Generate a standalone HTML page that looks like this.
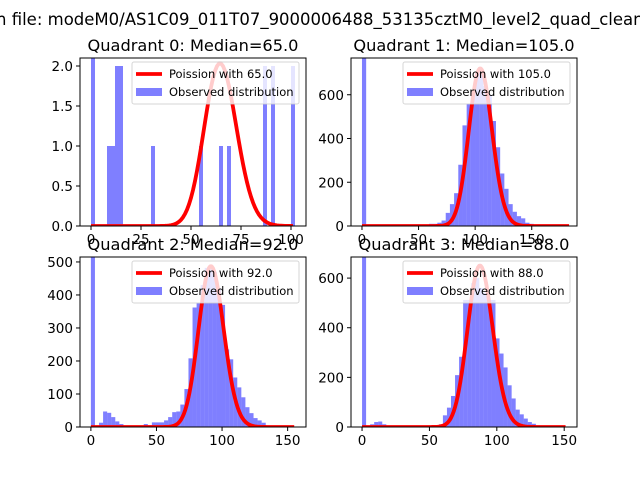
<!DOCTYPE html>
<html><head><meta charset="utf-8">
<style>
html,body{margin:0;padding:0;background:#fff;}
svg{display:block;font-family:"DejaVu Sans","Liberation Sans",sans-serif;}
</style></head>
<body>
<svg id="fig" width="640" height="480" viewBox="0 0 640 480" xmlns="http://www.w3.org/2000/svg">
<rect width="640" height="480" fill="#fff"/>
<text x="-4" y="25" font-size="16.5" fill="#000">n file: modeM0/AS1C09_011T07_9000006488_53135cztM0_level2_quad_clean.evt</text>
</svg>
<script>
// ---- data ----
const q0Counts = [3,0,0,0,1,1,2,2,0,0,0,0,0,0,0,1,0,0,0,0,0,0,0,0,0,0,0,1,0,0,0,0,1,0,1,0,0,0,0,0,0,0,0,2,0,2,0,0,0,0,2];
const q1Counts = [900,0,0,0,5,2,2,2,2,2,2,2,2,2,2,5,10,10,15,25,60,100,150,280,460,560,620,700,700,640,600,480,360,240,170,100,65,45,35,15,10,5,3,3,2,0,0,0,0,0];
const q2Counts = [600,0,13,47,43,30,17,9,3,3,2,2,3,9,5,14,14,14,20,30,45,47,68,115,208,362,375,430,482,482,470,420,370,235,205,150,120,90,60,42,27,20,13,5,2,0,0,0,0,0];
const q3Counts = [900,0,11,20,22,11,2,2,2,2,2,2,2,2,2,2,2,2,2,11,47,78,125,209,283,512,512,580,600,560,540,512,512,357,296,240,168,115,70,51,34,20,13,7,2,0,0,0,0,0];
const binWidths = [2.0, 3.7, 3.1, 3.0];
const lambdas = [65, 105, 92, 88];
const curvePeaks = [2.03, 720, 487, 650];
const curveMax = [101, 183, 155, 151];
const titles = ["Quadrant 0: Median=65.0","Quadrant 1: Median=105.0","Quadrant 2: Median=92.0","Quadrant 3: Median=88.0"];
const xTicks = [[0,25,50,75,100],[0,50,100,150],[0,50,100,150],[0,50,100,150]];
const yTicks = [[0,0.5,1.0,1.5,2.0],[0,200,400,600],[0,100,200,300,400,500],[0,200,400,600]];
const yTickLabels = [["0.0","0.5","1.0","1.5","2.0"],["0","200","400","600"],["0","100","200","300","400","500"],["0","200","400","600"]];
const xLims = [[-5.5,107.5],[-9.7,190],[-8.3,164],[-8.2,159.5]];
const yLims = [[0,2.1],[0,768],[0,515],[0,685]];

const NS="http://www.w3.org/2000/svg";
const svg=document.getElementById('fig');
function mk(tag,attrs,parent){const e=document.createElementNS(NS,tag);for(const k in attrs)e.setAttribute(k,attrs[k]);(parent||svg).appendChild(e);return e;}
const boxes=[[80,58,306,226],[351,58,577,226],[80,257,306,427],[351,257,577,427]];
const allCounts=[q0Counts,q1Counts,q2Counts,q3Counts];
function lfact(n){let s=0;for(let i=2;i<=n;i++)s+=Math.log(i);return s;}

for(let q=0;q<4;q++){
  const [L,T,R,B]=boxes[q];
  const g=mk('g',{});
  
  
  const xs=v=>L+(v-xLims[q][0])/(xLims[q][1]-xLims[q][0])*(R-L);
  const ys=v=>B-(v-yLims[q][0])/(yLims[q][1]-yLims[q][0])*(B-T);
  const cp=mk('clipPath',{id:'cp'+q},g);
  mk('rect',{x:L,y:T,width:R-L,height:B-T},cp);
  const plot=mk('g',{'clip-path':'url(#cp'+q+')'},g);
  const counts=allCounts[q];
  counts.forEach((c,i)=>{
    if(c<=0)return;
    const x0=xs(i*binWidths[q]), x1=xs((i+1)*binWidths[q]);
    const r=mk('rect',{x:x0,y:ys(c),width:Math.max(0,x1-x0),height:ys(0)-ys(c),fill:'#0000ff','fill-opacity':0.5},plot);
    
    
  });
  const lam=lambdas[q];
  const logPeak=Math.floor(lam)*Math.log(lam)-lam-lfact(Math.floor(lam));
  let d='';
  for(let k=0;k<=curveMax[q];k++){
    const lp=k*Math.log(lam)-lam-lfact(k);
    const v=curvePeaks[q]*Math.exp(lp-logPeak);
    d+=(k?'L':'M')+xs(k).toFixed(2)+','+ys(v).toFixed(2);
  }
  const p=mk('path',{d:d,fill:'none',stroke:'#ff0000','stroke-width':3.8,'stroke-linejoin':'round'},plot);
  
  
  const f=mk('rect',{x:L,y:T,width:R-L,height:B-T,fill:'none',stroke:'#000','stroke-width':1},g);
  
  
  xTicks[q].forEach(t=>{
    const x=xs(t);
    mk('line',{x1:x,x2:x,y1:B,y2:B+4,stroke:'#000','stroke-width':1},g);
    const tx=mk('text',{x:x,y:B+18,'font-size':13.5,'text-anchor':'middle',fill:'#000'},g);
    tx.textContent=t;
    
    
  });
  yTicks[q].forEach((t,i)=>{
    const y=ys(t);
    mk('line',{x1:L-4,x2:L,y1:y,y2:y,stroke:'#000','stroke-width':1},g);
    const tx=mk('text',{x:L-7,y:y+5,'font-size':13.5,'text-anchor':'end',fill:'#000'},g);
    tx.textContent=yTickLabels[q][i];
    
    
  });
  const tt=mk('text',{x:(L+R)/2,y:T-7,'font-size':16.2,'text-anchor':'middle',fill:'#000'},g);
  tt.textContent=titles[q];
  
  
  const lg=mk('g',{},g);
  
  
  const lx=R-174, ly=T+4;
  mk('rect',{x:lx,y:ly,width:167,height:42,rx:2,fill:'#fff','fill-opacity':0.8,stroke:'#ccc','stroke-opacity':0.8,'stroke-width':1},lg);
  mk('line',{x1:lx+4,x2:lx+30,y1:ly+12,y2:ly+12,stroke:'#ff0000','stroke-width':3.8},lg);
  const t1=mk('text',{x:lx+37,y:ly+16,'font-size':11.5,fill:'#000'},lg);
  t1.textContent='Poission with '+lam.toFixed(1);
  
  
  mk('rect',{x:lx+4,y:ly+26,width:26,height:8,fill:'#0000ff','fill-opacity':0.5},lg);
  const t2=mk('text',{x:lx+37,y:ly+34,'font-size':11.5,fill:'#000'},lg);
  t2.textContent='Observed distribution';
  
  
}
</script>
</body></html>
